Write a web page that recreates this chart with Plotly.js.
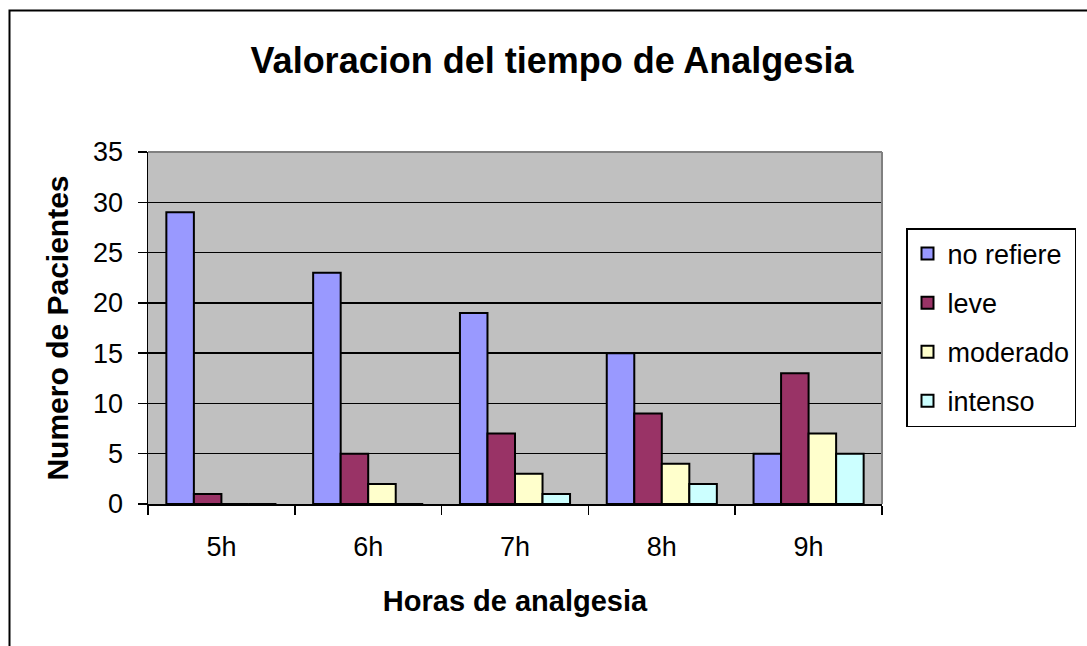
<!DOCTYPE html>
<html>
<head>
<meta charset="utf-8">
<script src="https://cdn.plot.ly/plotly-3.0.1.min.js"></script>
<style>html,body{margin:0;padding:0;background:#fff}</style>
</head>
<body>
<div id="chart" style="width:1087px;height:646px"></div>
<script>
const categories = ["5h", "6h", "7h", "8h", "9h"];
const seriesNames = ["no refiere", "leve", "moderado", "intenso"];
const noRefiere = [29, 23, 19, 15, 5];
const leve = [1, 5, 7, 9, 13];
const moderado = [0, 2, 3, 4, 7];
const intenso = [0, 0, 1, 2, 5];
const yTicks = [0, 5, 10, 15, 20, 25, 30, 35];

const seriesValues = [noRefiere, leve, moderado, intenso];
const colors = ["#9999FF", "#993366", "#FFFFCC", "#CCFFFF"];

const font = "Liberation Sans, Arial, sans-serif";

const traces = seriesValues.map((vals, i) => ({
  type: "bar",
  name: seriesNames[i],
  x: categories,
  y: vals,
  legendgroup: "g" + i,
  marker: { color: colors[i], line: { color: "#000", width: 2 } },
  hoverinfo: "x+y+name"
}));

const L = 148, R = 882, T = 152, B = 504, W = 1087, H = 646;
const px2x = p => (p - L) / (R - L);
const py2y = p => (B - p) / (B - T);

const layout = {
  width: W, height: H,
  margin: { l: L, r: W - R, t: T, b: H - B, pad: 0, autoexpand: false },
  paper_bgcolor: "#fff",
  plot_bgcolor: "#C0C0C0",
  barmode: "group",
  bargap: 0.25,
  bargroupgap: 0,
  showlegend: true,
  title: {
    text: "<b>Valoracion del tiempo de Analgesia</b>",
    font: { family: font, size: 36, color: "#000" },
    x: 552 / W, xanchor: "center",
    y: 1 - 60 / H, yanchor: "middle"
  },
  xaxis: {
    type: "category",
    tickson: "boundaries",
    ticks: "outside", ticklen: 9, tickwidth: 1.5, tickcolor: "#000",
    showline: true, linecolor: "#000", linewidth: 1.5,
    showgrid: false,
    tickfont: { family: font, size: 27, color: "#000" },
    ticklabelstandoff: 18,
    title: { text: "<b>Horas de analgesia</b>", font: { family: font, size: 29, color: "#000" }, standoff: 30 },
    fixedrange: true
  },
  yaxis: {
    range: [0, 35],
    tickvals: yTicks,
    ticks: "outside", ticklen: 9, tickwidth: 1.5, tickcolor: "#000",
    showline: true, linecolor: "#000", linewidth: 1.5,
    showgrid: true, gridcolor: "#000", gridwidth: 1.5,
    zeroline: false,
    tickfont: { family: font, size: 27, color: "#000" },
    ticklabelstandoff: 9,
    title: { text: "<b>Numero de Pacientes</b>", font: { family: font, size: 30, color: "#000" }, standoff: 15 },
    fixedrange: true
  },
  legend: {
    x: px2x(906), y: py2y(228), xanchor: "left", yanchor: "top",
    bgcolor: "#fff", bordercolor: "#000", borderwidth: 1.5,
    font: { family: font, size: 27, color: "#000" },
    tracegroupgap: 11,
    itemwidth: 30
  },
  shapes: [
    { type: "line", xref: "paper", yref: "paper", x0: 0, x1: 1, y0: 1, y1: 1, line: { color: "#808080", width: 2 } },
    { type: "line", xref: "paper", yref: "paper", x0: 1, x1: 1, y0: 0, y1: 1, line: { color: "#808080", width: 2 } },
    { type: "rect", xref: "paper", yref: "paper", x0: px2x(9.5), x1: px2x(1120), y0: py2y(10.5), y1: py2y(700), line: { color: "#000", width: 2 }, fillcolor: "rgba(0,0,0,0)", layer: "above" }
  ]
};

Plotly.newPlot("chart", traces, layout, { displayModeBar: false, staticPlot: true });
</script>
</body>
</html>
